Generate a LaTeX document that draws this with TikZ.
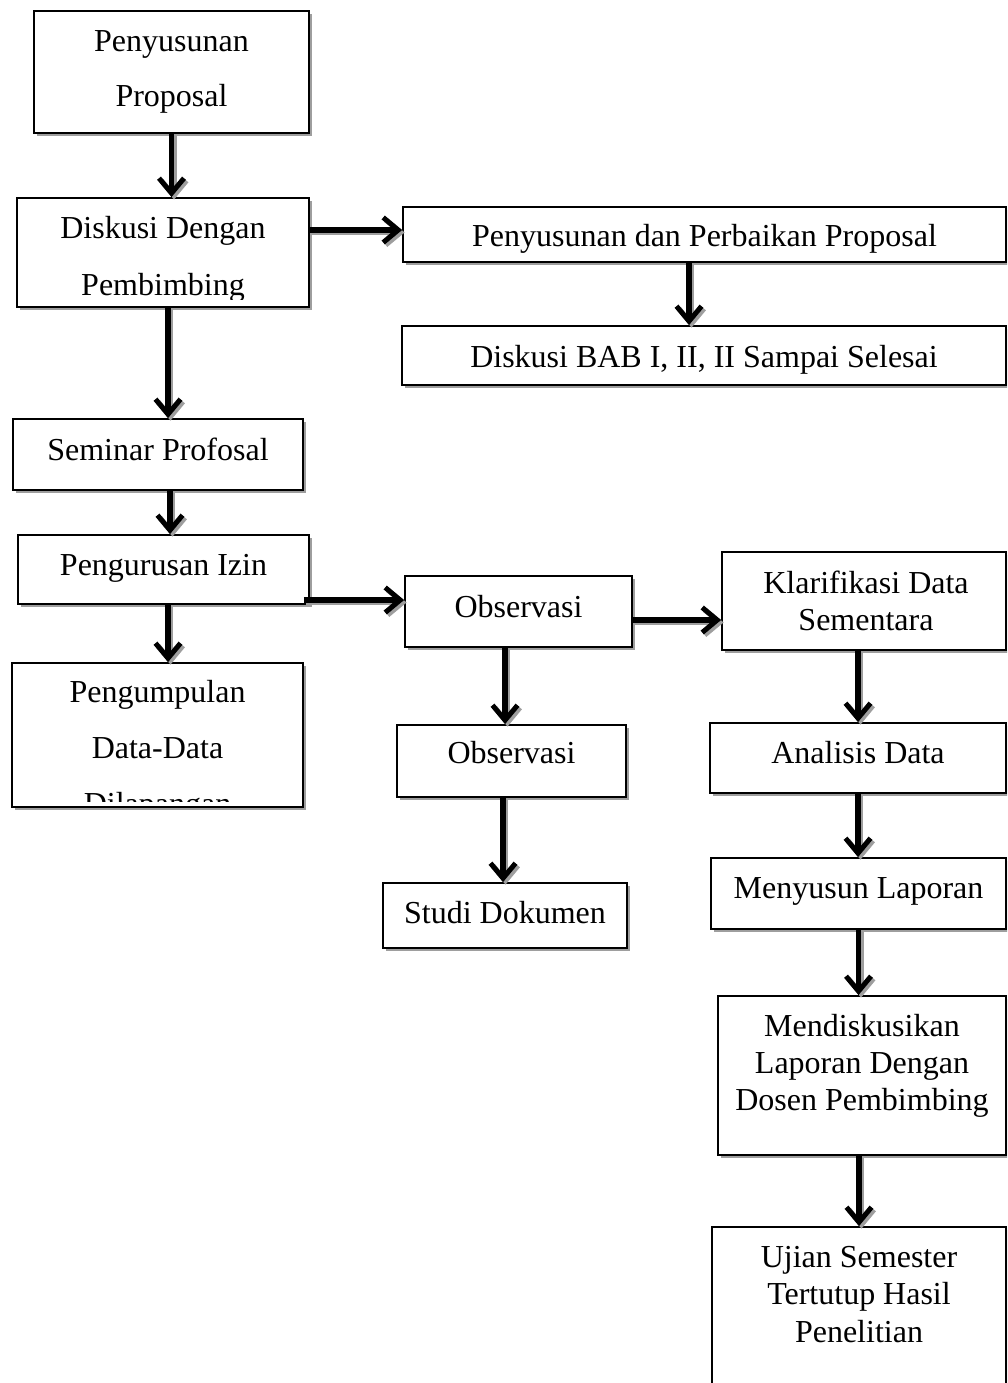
\documentclass[tikz,border=0pt]{standalone}
\usepackage{fontspec}
\setmainfont{Liberation Serif}
\usetikzlibrary{arrows.meta,shadows,calc}
\tikzset{
  box/.style={draw, line width=1.8pt, fill=white, inner sep=0pt,
    drop shadow={shadow xshift=3pt, shadow yshift=-3pt, fill=black!38, opacity=1}},
  lbl/.style={anchor=base, align=center, inner sep=0pt, font=\fontsize{32}{37}\selectfont},
  conn/.style={line width=5.5pt, -{Straight Barb[length=15pt,width=25pt,line width=5pt]},
    preaction={draw=black!38, line width=5.5pt, -{Straight Barb[length=15pt,width=25pt,line width=5pt]},
      transform canvas={xshift=2.5pt,yshift=-2.5pt}}}
}
\begin{document}
\begin{tikzpicture}[x=1pt,y=-1pt]
\clip (0,0) rectangle (1007,1383);
% boxes (left column)
\node[box, minimum width=275pt, minimum height=122pt] (B1) at (171.5,72) {};
\node[box, minimum width=292pt, minimum height=109pt] (B2) at (163,252.5) {};
\node[box, minimum width=290pt, minimum height=71pt] (B5) at (158,454.5) {};
\node[box, minimum width=291pt, minimum height=69pt] (B6) at (163.5,569.5) {};
\node[box, minimum width=291pt, minimum height=144pt] (B7) at (157.5,735) {};
% boxes (top right)
\node[box, minimum width=603pt, minimum height=55pt] (B3) at (704.5,234.5) {};
\node[box, minimum width=604pt, minimum height=59pt] (B4) at (704,355.5) {};
% middle column
\node[box, minimum width=227pt, minimum height=71pt] (B8) at (518.5,611.5) {};
\node[box, minimum width=229pt, minimum height=72pt] (B9) at (511.5,761) {};
\node[box, minimum width=244pt, minimum height=65pt] (B10) at (505,915.5) {};
% right column
\node[box, minimum width=284pt, minimum height=98pt] (B11) at (864,601) {};
\node[box, minimum width=296pt, minimum height=70pt] (B12) at (858,758) {};
\node[box, minimum width=295pt, minimum height=71pt] (B13) at (858.5,893.5) {};
\node[box, minimum width=288pt, minimum height=159pt] (B14) at (862,1075.5) {};
\node[box, minimum width=294pt, minimum height=200pt] (B15) at (859,1327) {};
% texts (anchor = baseline of the last line)
\node[lbl, font=\fontsize{32}{55}\selectfont] (T1) at (171.5,107) {Penyusunan\\Proposal};
\begin{scope}
\clip ($(B2.north west)+(2,2)$) rectangle ($(B2.south east)+(-2,-8)$);
\node[lbl, font=\fontsize{32}{57}\selectfont] (T2) at (163,295) {Diskusi Dengan\\Pembimbing};
\end{scope}
\node[lbl] (T5) at (158,460) {Seminar Profosal};
\node[lbl] (T6) at (163.5,575) {Pengurusan Izin};
\begin{scope}
\clip ($(B7.north west)+(2,2)$) rectangle ($(B7.south east)+(-2,-6)$);
\node[lbl, font=\fontsize{32}{56}\selectfont] (T7) at (157.5,814) {Pengumpulan\\Data-Data\\Dilapangan};
\end{scope}
\node[lbl] (T3) at (704.5,246) {Penyusunan dan Perbaikan Proposal};
\node[lbl] (T4) at (704,367) {Diskusi BAB I, II, II Sampai Selesai};
\node[lbl] (T8) at (518.5,617) {Observasi};
\node[lbl] (T9) at (511.5,763) {Observasi};
\node[lbl] (T10) at (505,923) {Studi Dokumen};
\node[lbl] (T11) at (866,630) {Klarifikasi Data\\Sementara};
\node[lbl] (T12) at (858,763) {Analisis Data};
\node[lbl] (T13) at (858.5,898) {Menyusun Laporan};
\node[lbl] (T14) at (862,1110) {Mendiskusikan\\Laporan Dengan\\Dosen Pembimbing};
\node[lbl, font=\fontsize{32}{37.5}\selectfont] (T15) at (859,1342) {Ujian Semester\\Tertutup Hasil\\Penelitian};
% connectors
\draw[conn] (B1.south) -- (B1.south |- B2.north);
\draw[conn] ([xshift=5pt]B2.south) -- ([xshift=5pt]B2.south |- B5.north);
\draw[conn] ([xshift=12pt]B5.south) -- ([xshift=12pt]B5.south |- B6.north);
\draw[conn] ([xshift=4.5pt]B6.south) -- ([xshift=4.5pt]B6.south |- B7.north);
\draw[conn] ([yshift=4.5pt]B3.west -| B2.east) -- ([yshift=4.5pt]B3.west);
\draw[conn] ([xshift=-15.5pt]B3.south) -- ([xshift=-15.5pt]B3.south |- B4.north);
\draw[conn] ([yshift=11.5pt]B8.west -| B6.east) ++(-6,0) -- ([yshift=11.5pt]B8.west);
\draw[conn] ([yshift=-8.5pt]B8.east) -- ([yshift=-8.5pt]B8.east -| B11.west);
\draw[conn] ([xshift=-13.5pt]B8.south) -- ([xshift=-13.5pt]B8.south |- B9.north);
\draw[conn] ([xshift=-8.5pt]B9.south) -- ([xshift=-8.5pt]B9.south |- B10.north);
\draw[conn] ([xshift=-6pt]B11.south) -- ([xshift=-6pt]B11.south |- B12.north);
\draw[conn] (B12.south) -- (B12.south |- B13.north);
\draw[conn] (B13.south) -- (B13.south |- B14.north);
\draw[conn] ([xshift=-3pt]B14.south) -- ([xshift=-3pt]B14.south |- B15.north);
\end{tikzpicture}
\end{document}
